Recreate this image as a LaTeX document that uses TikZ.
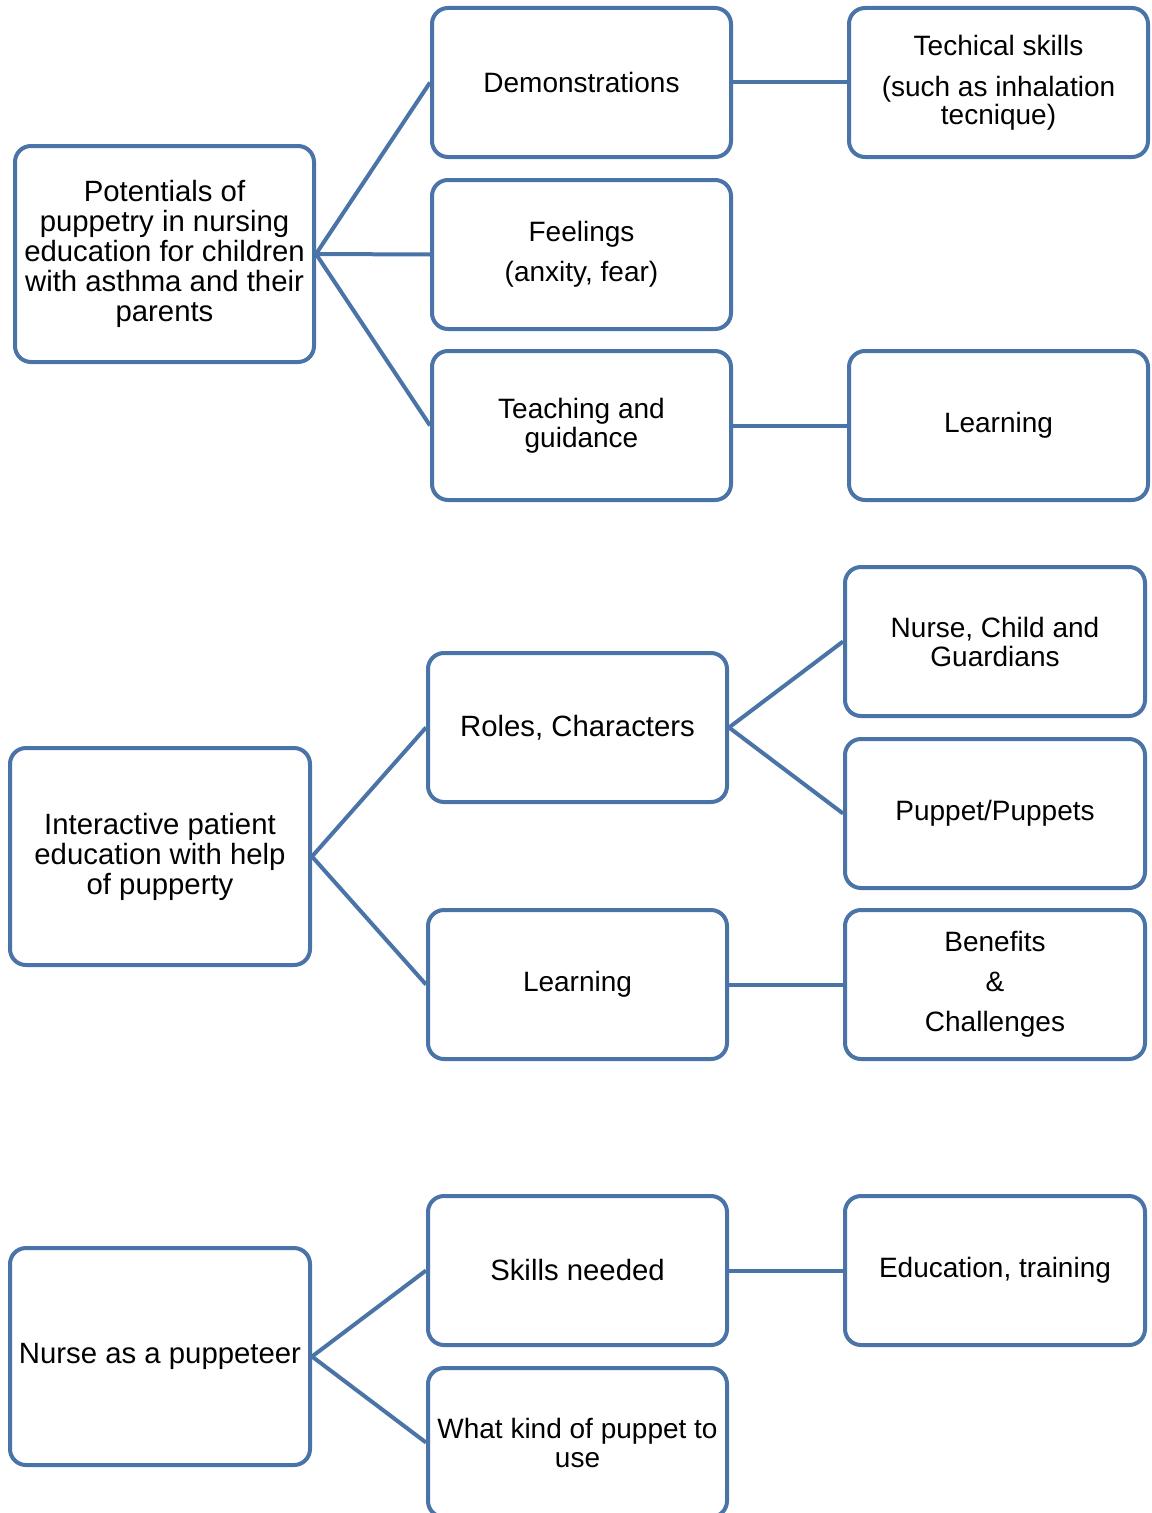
\documentclass[tikz,border=0pt]{standalone}
\usepackage{fontspec}
\setmainfont{Liberation Sans}
\definecolor{boxblue}{RGB}{74,116,168}
\tikzset{
  bx/.style={draw=boxblue, line width=3pt, rounded corners=12pt, fill=white,
    align=center, inner sep=0pt, font=\fontsize{21}{22.5}\selectfont},
  big/.style={font=\fontsize{22}{22.5}\selectfont},
  link/.style={draw=boxblue, line width=3pt}
}
% \bx[extra]{name}{x1}{y1}{x2}{y2}{text}
\newcommand{\bx}[6][]{%
  \node[bx, #1, minimum width={(#4-#2)*0.75pt}, minimum height={(#5-#3)*0.75pt}]
    (#2) at ({(#3+#5)/2},{(#4+#6)/2}) {};}
\newcommand{\bxx}[7][]{%
  \node[bx, #1, minimum width={(#5-#3)*0.75pt}, minimum height={(#6-#4)*0.75pt}]
    (#2) at ({(#3+#5)/2},{(#4+#6)/2}) {#7};}
\begin{document}
\begin{tikzpicture}[x=0.75pt,y=-0.75pt]
\useasboundingbox (0,0) rectangle (1152,1513);
% Section 1
\bxx[big]{a1}{15}{146}{314}{362}{Potentials of\\ puppetry in nursing\\ education for children\\ with asthma and their\\ parents}
\bxx{b1}{432}{8}{731}{157}{Demonstrations}
\bxx{b2}{432}{180}{731}{329}{Feelings\\[7.5pt] (anxity, fear)}
\bxx{b3}{432}{351}{731}{500}{Teaching and\\[-0.75pt] guidance}
\bxx{c1}{849}{8}{1148}{157}{Techical skills\\[8.25pt] (such as inhalation\\[-1.5pt] tecnique)}
\bxx{c3}{849}{351}{1148}{500}{Learning}
\draw[link] (a1.east) -- (b1.west);
\draw[link] (a1.east) -- (b2.west);
\draw[link] (a1.east) -- (b3.west);
\draw[link] (b1.east) -- (c1.west);
\draw[link] (b3.east) -- (c3.west);
% Section 2
\bxx[big]{a2}{10}{748}{310}{965}{Interactive patient\\ education with help\\ of pupperty}
\bxx[big]{b4}{428}{653}{727}{802}{Roles, Characters}
\bxx{b5}{428}{910}{727}{1059}{Learning}
\bxx{c4}{845}{567}{1145}{716}{Nurse, Child and\\[-0.75pt] Guardians}
\bxx{c5}{845}{739}{1145}{888}{Puppet/Puppets}
\bxx{c6}{845}{910}{1145}{1059}{Benefits\\[7.5pt] \&\\[7.5pt] Challenges}
\draw[link] (a2.east) -- (b4.west);
\draw[link] (a2.east) -- (b5.west);
\draw[link] (b4.east) -- (c4.west);
\draw[link] (b4.east) -- (c5.west);
\draw[link] (b5.east) -- (c6.west);
% Section 3
\bxx[big]{a3}{10}{1248}{310}{1465}{Nurse as a puppeteer}
\bxx[big]{b6}{428}{1196}{727}{1345}{Skills needed}
\bxx{b7}{428}{1368}{727}{1517}{What kind of puppet to\\[-0.75pt] use}
\bxx{c7}{845}{1196}{1145}{1345}{Education, training}
\draw[link] (a3.east) -- (b6.west);
\draw[link] (a3.east) -- (b7.west);
\draw[link] (b6.east) -- (c7.west);
\end{tikzpicture}
\end{document}
